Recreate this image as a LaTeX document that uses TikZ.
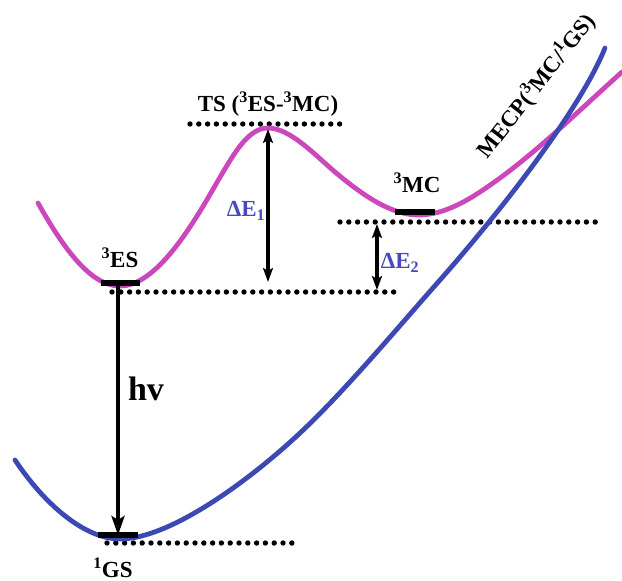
\documentclass[tikz,border=0pt]{standalone}
\usepackage{fontspec}
\setmainfont{Liberation Serif}
\usetikzlibrary{arrows.meta,positioning}
\definecolor{ink}{RGB}{0,0,0}
\definecolor{triplet}{RGB}{204,70,188}
\definecolor{singlet}{RGB}{60,72,180}
\definecolor{gap}{RGB}{72,72,192}
\tikzset{
  every picture/.style={x=1pt, y=-1pt, color=ink, font=\bfseries\fontsize{23}{26}\selectfont},
  surf/.style={line width=4.8pt, line cap=round},
  level/.style={line width=5.4pt, dash pattern=on 0pt off 8.8pt, line cap=round},
  bar/.style={line width=5.5pt},
  jump/.style={line width=4pt, -{Stealth[length=19pt,width=13pt,inset=4pt]}},
  span/.style={line width=3.6pt, {Stealth[length=14pt,width=10pt,inset=3pt]}-{Stealth[length=14pt,width=10pt,inset=3pt]}},
  lbl/.style={inner sep=0pt},
  dlbl/.style={lbl, text=gap},
}

\begin{document}
\begin{tikzpicture}
  \useasboundingbox (0,0) rectangle (622,581);
  % reference levels
  \coordinate (tsL) at (190,124);  \coordinate (tsR) at (346,124);
  \coordinate (mcL) at (340,222);  \coordinate (mcR) at (598,222);
  \coordinate (esL) at (112,292);  \coordinate (esR) at (400,292);
  \coordinate (gsL) at (107,543);  \coordinate (gsR) at (296,543);
  \draw[level] (tsL) -- (tsR);
  \draw[level] (mcL) -- (mcR);
  \draw[level] (esL) -- (esR);
  \draw[level] (gsL) -- (gsR);
  % potential energy surfaces
  \draw[surf, triplet] (38,203) .. controls (70,260) and (95,286) .. (120,286)
    .. controls (150,286) and (180,245) .. (205,203)
    .. controls (230,161) and (245,128) .. (268,128)
    .. controls (290,128) and (315,155) .. (335,172)
    .. controls (360,193) and (390,215) .. (418,215)
    .. controls (445,215) and (470,200) .. (500,178)
    .. controls (540,149) and (585,105) .. (622,72);
  \draw[surf, singlet] (15,460) .. controls (45,505) and (85,539) .. (120,539)
    .. controls (170,539) and (250,480) .. (300,433)
    .. controls (345,391) and (400,325) .. (440,280)
    .. controls (500,212) and (580,110) .. (605,48);
  % minima
  \coordinate (ES) at (120,283);
  \coordinate (MC) at (415,212);
  \coordinate (GS) at (118,535);
  \draw[bar] ([xshift=-19pt]ES) -- ([xshift=20pt]ES);
  \draw[bar] ([xshift=-20pt]MC) -- ([xshift=20pt]MC);
  \draw[bar] ([xshift=-20pt]GS) -- ([xshift=20pt]GS);
  % transitions
  \coordinate (TS) at (268,129);
  \coordinate (esT) at (268,282);
  \coordinate (mcB) at (377,224);
  \coordinate (esB) at (377,290);
  \draw[jump] (118,285) -- (GS);
  \draw[span] (TS) -- (esT);
  \draw[span] (mcB) -- (esB);
  % labels
  \node[lbl] (ts) at (268,104) {TS (\textsuperscript{3}ES-\textsuperscript{3}MC)};
  \node[lbl] (es) at (120,258) {\textsuperscript{3}ES};
  \node[lbl] (mc) at (417,183) {\textsuperscript{3}MC};
  \node[lbl] (gs) at (113,568) {\textsuperscript{1}GS};
  \node[lbl, font=\bfseries\fontsize{34}{38}\selectfont] (hv) at (146,389) {hv};
  \node[dlbl] (de1) at (246,211) {ΔE\textsubscript{1}};
  \node[dlbl] (de2) at (400,263) {ΔE\textsubscript{2}};
  \node[lbl, rotate=52] (mecp) at (536,86) {MECP(\textsuperscript{3}MC/\textsuperscript{1}GS)};
\end{tikzpicture}
\end{document}
